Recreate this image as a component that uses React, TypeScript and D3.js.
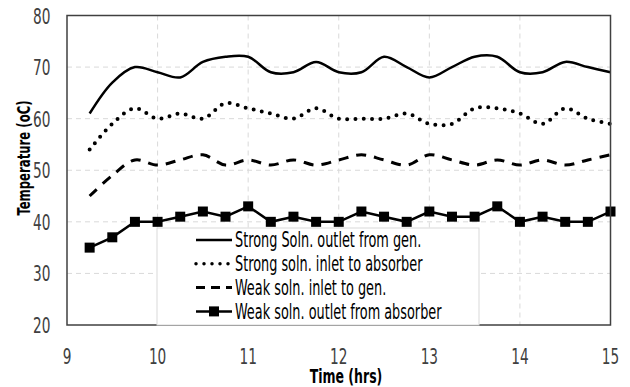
import React, { useRef, useEffect } from 'react';
import * as d3 from 'd3';

const hours = [9.25, 9.5, 9.75, 10, 10.25, 10.5, 10.75, 11, 11.25, 11.5, 11.75, 12, 12.25, 12.5, 12.75, 13, 13.25, 13.5, 13.75, 14, 14.25, 14.5, 14.75, 15];
const strongOutletGen = [61, 67, 70, 69, 68, 71, 72, 72, 69, 69, 71, 69, 69, 72, 70, 68, 70, 72, 72, 69, 69, 71, 70, 69];
const strongInletAbs = [54, 59, 62, 60, 61, 60, 63, 62, 61, 60, 62, 60, 60, 60, 61, 59, 59, 62, 62, 61, 59, 62, 60, 59];
const weakInletGen = [45, 49, 52, 51, 52, 53, 51, 52, 51, 52, 51, 52, 53, 52, 51, 53, 52, 51, 52, 51, 52, 51, 52, 53];
const weakOutletAbs = [35, 37, 40, 40, 41, 42, 41, 43, 40, 41, 40, 40, 42, 41, 40, 42, 41, 41, 43, 40, 41, 40, 40, 42];

const xTicks = [9, 10, 11, 12, 13, 14, 15];
const yTicks = [20, 30, 40, 50, 60, 70, 80];

const legendLabels = [
  'Strong Soln. outlet from gen.',
  'Strong soln. inlet to absorber',
  'Weak soln. inlet to gen.',
  'Weak soln. outlet from absorber',
];

const FONT = '"DejaVu Sans Condensed", "Liberation Sans Narrow", sans-serif';
// the reference text is tall and narrow, so glyphs get stretched vertically
const STRETCH = 1.45;

export default function App() {
  const ref = useRef<SVGSVGElement>(null);

  useEffect(() => {
    if (!ref.current) return;
    const width = 630;
    const height = 387;
    const margin = { top: 15.5, right: 19.5, bottom: 62, left: 67 };
    const innerW = width - margin.left - margin.right;
    const innerH = height - margin.top - margin.bottom;

    const svg = d3.select(ref.current);
    svg.selectAll('*').remove();

    const x = d3.scaleLinear().domain([9, 15]).range([0, innerW]);
    const y = d3.scaleLinear().domain([20, 80]).range([innerH, 0]);

    const g = svg.append('g').attr('transform', `translate(${margin.left},${margin.top})`);

    // grid
    g.append('g')
      .selectAll('line')
      .data(yTicks.slice(1, -1))
      .join('line')
      .attr('x1', 0)
      .attr('x2', innerW)
      .attr('y1', (d) => y(d))
      .attr('y2', (d) => y(d))
      .attr('stroke', '#d9d9d9')
      .attr('stroke-width', 1)
      .attr('stroke-dasharray', '5,4');
    g.append('g')
      .selectAll('line')
      .data(xTicks.slice(1, -1))
      .join('line')
      .attr('x1', (d) => x(d))
      .attr('x2', (d) => x(d))
      .attr('y1', 0)
      .attr('y2', innerH)
      .attr('stroke', '#d9d9d9')
      .attr('stroke-width', 1)
      .attr('stroke-dasharray', '5,4');

    // tick labels
    g.append('g')
      .selectAll('text')
      .data(yTicks)
      .join('text')
      .attr('transform', (d) => `translate(-16.5,${y(d) + 8}) scale(1,${STRETCH})`)
      .attr('text-anchor', 'end')
      .attr('font-family', FONT)
      .attr('font-size', 15.2)
      .attr('fill', '#404040')
      .text((d) => d);
    g.append('g')
      .selectAll('text')
      .data(xTicks)
      .join('text')
      .attr('transform', (d) => `translate(${x(d)},${innerH + 38.5}) scale(1,${STRETCH})`)
      .attr('text-anchor', 'middle')
      .attr('font-family', FONT)
      .attr('font-size', 15.2)
      .attr('fill', '#404040')
      .text((d) => d);

    // axis titles
    svg.append('text')
      .attr('transform', `translate(346,383) scale(1,${STRETCH})`)
      .attr('text-anchor', 'middle')
      .attr('font-family', FONT)
      .attr('font-weight', 'bold')
      .attr('font-size', 13.9)
      .attr('fill', '#000')
      .text('Time (hrs)');
    svg.append('text')
      .attr('transform', `translate(29.5,158) rotate(-90) scale(1,1.4)`)
      .attr('text-anchor', 'middle')
      .attr('font-family', FONT)
      .attr('font-weight', 'bold')
      .attr('font-size', 13)
      .attr('fill', '#000')
      .text('Temperature (oC)');

    const smooth = d3.line<number>()
      .x((_, i) => x(hours[i]))
      .y((d) => y(d))
      .curve(d3.curveCatmullRom.alpha(0.5));
    const straight = d3.line<number>()
      .x((_, i) => x(hours[i]))
      .y((d) => y(d));

    g.append('path')
      .datum(strongOutletGen)
      .attr('d', smooth)
      .attr('fill', 'none')
      .attr('stroke', '#000')
      .attr('stroke-width', 2.5);
    g.append('path')
      .datum(strongInletAbs)
      .attr('d', smooth)
      .attr('fill', 'none')
      .attr('stroke', '#000')
      .attr('stroke-width', 4)
      .attr('stroke-linecap', 'round')
      .attr('stroke-dasharray', '0,8.3');
    g.append('path')
      .datum(weakInletGen)
      .attr('d', smooth)
      .attr('fill', 'none')
      .attr('stroke', '#000')
      .attr('stroke-width', 3)
      .attr('stroke-dasharray', '10,8');

    // legend box (drawn before the last series so the markers sit on top)
    const legend = svg.append('g');
    const lx = 157;
    const ly = 228;
    legend.append('rect')
      .attr('x', lx)
      .attr('y', ly)
      .attr('width', 322)
      .attr('height', margin.top + innerH - ly)
      .attr('fill', '#fff')
      .attr('stroke', '#d9d9d9')
      .attr('stroke-width', 1);

    const dashes = [null, '0,8', '9,6', null];
    legendLabels.forEach((label, i) => {
      const cy = 240 + i * 23.8;
      const ln = legend.append('line')
        .attr('x1', 196)
        .attr('x2', 232)
        .attr('y1', cy)
        .attr('y2', cy)
        .attr('stroke', '#000')
        .attr('stroke-width', i === 1 ? 3.5 : i === 2 ? 3 : 2.5);
      if (dashes[i]) ln.attr('stroke-dasharray', dashes[i] as string);
      if (i === 1) ln.attr('stroke-linecap', 'round');
      if (i === 3) {
        legend.append('rect')
          .attr('x', 214 - 5)
          .attr('y', cy - 5)
          .attr('width', 10)
          .attr('height', 10)
          .attr('fill', '#000');
      }
      legend.append('text')
        .attr('transform', `translate(235,${cy + 7.3}) scale(1,${STRETCH})`)
        .attr('font-family', FONT)
        .attr('font-size', 14.3)
        .attr('fill', '#000')
        .text(label);
    });

    // weak outlet series with square markers
    g.append('path')
      .datum(weakOutletAbs)
      .attr('d', straight)
      .attr('fill', 'none')
      .attr('stroke', '#000')
      .attr('stroke-width', 2.5);
    g.append('g')
      .selectAll('rect')
      .data(weakOutletAbs)
      .join('rect')
      .attr('x', (_, i) => x(hours[i]) - 5)
      .attr('y', (d) => y(d) - 5)
      .attr('width', 10)
      .attr('height', 10)
      .attr('fill', '#000');

    // plot border
    g.append('rect')
      .attr('x', 0)
      .attr('y', 0)
      .attr('width', innerW)
      .attr('height', innerH)
      .attr('fill', 'none')
      .attr('stroke', '#404040')
      .attr('stroke-width', 1.5);
  }, []);

  return (
    <div style={{ position: 'fixed', left: 0, top: 0, width: 630, height: 387, background: '#fff' }}>
      <svg ref={ref} width={630} height={387} style={{ display: 'block' }} />
    </div>
  );
}
